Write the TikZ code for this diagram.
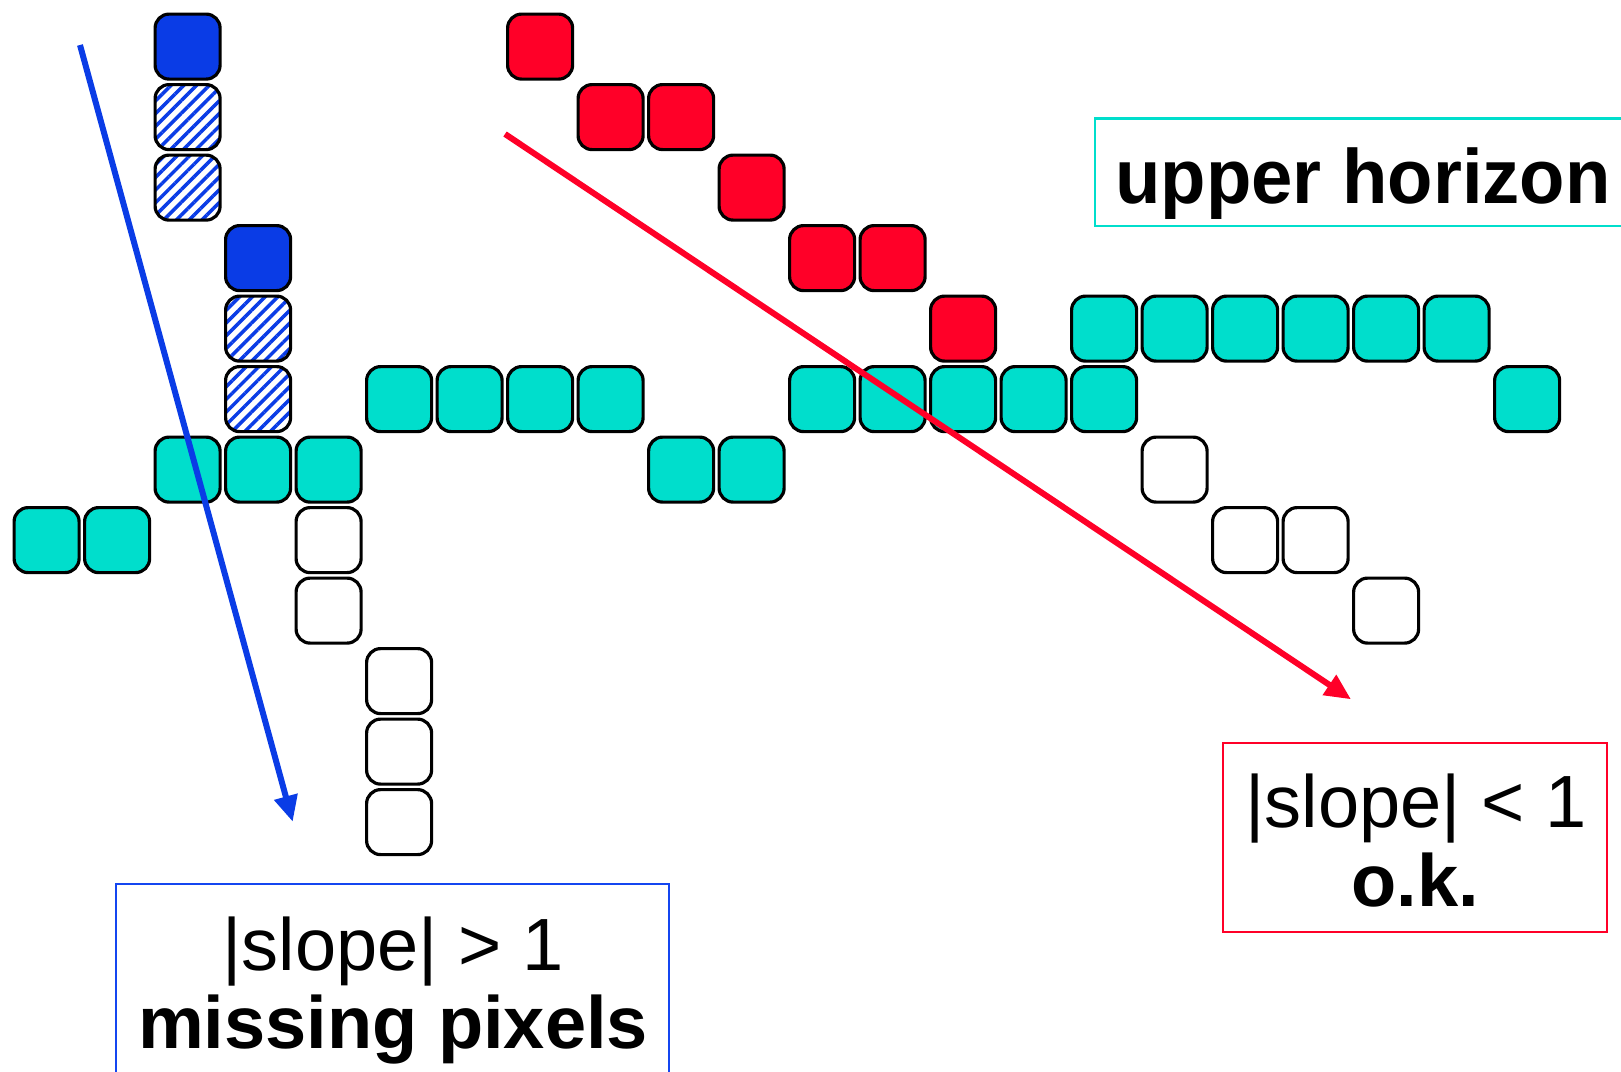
\documentclass[tikz,border=0pt]{standalone}
\usepackage{fontspec}
\setmainfont{Liberation Sans}
\newfontfamily\uhfont[FakeStretch=0.965]{Liberation Sans}
\usetikzlibrary{arrows.meta,patterns.meta}
\definecolor{cellblue}{RGB}{10,60,230}
\definecolor{cellred}{RGB}{255,0,40}
\definecolor{cellcyan}{RGB}{0,222,204}
\definecolor{boxblue}{RGB}{20,70,240}
\tikzset{
  cell/.style={draw=black,line width=3.2pt,rounded corners=14pt,minimum size=65pt,inner sep=0pt},
  bluecell/.style={cell,fill=cellblue},
  hatchcell/.style={cell,pattern={Lines[angle=45,distance=9pt,line width=3.5pt]},pattern color=cellblue},
  redcell/.style={cell,fill=cellred},
  cyancell/.style={cell,fill=cellcyan},
  whitecell/.style={cell,fill=white},
  labelbox/.style={line width=2.5pt,minimum width=#1,inner sep=0pt},
  bigtext/.style={anchor=base,inner sep=0pt,font=\fontsize{74}{80}\selectfont},
  slopearrow/.style={line width=6pt,-{Triangle[length=26pt,width=23pt]}}
}
\begin{document}
\begin{tikzpicture}[x=1pt,y=-1pt]
\useasboundingbox (0,0) rectangle (1621,1071);
\clip (0,0) rectangle (1621,1071);
% cells
\foreach \c/\r in {2/0,3/3}
  \node[bluecell] (b-\c-\r) at ({46.6+70.5*\c},{46.6+70.5*\r}) {};
\foreach \c/\r in {2/1,2/2,3/4,3/5}
  \node[hatchcell] (h-\c-\r) at ({46.6+70.5*\c},{46.6+70.5*\r}) {};
\foreach \c/\r in {7/0,8/1,9/1,10/2,11/3,12/3,13/4}
  \node[redcell] (r-\c-\r) at ({46.6+70.5*\c},{46.6+70.5*\r}) {};
\foreach \c/\r in {15/4,16/4,17/4,18/4,19/4,20/4,5/5,6/5,7/5,8/5,11/5,12/5,13/5,14/5,15/5,21/5,2/6,3/6,4/6,9/6,10/6,0/7,1/7}
  \node[cyancell] (c-\c-\r) at ({46.6+70.5*\c},{46.6+70.5*\r}) {};
\foreach \c/\r in {16/6,4/7,17/7,18/7,4/8,19/8,5/9,5/10,5/11}
  \node[whitecell] (w-\c-\r) at ({46.6+70.5*\c},{46.6+70.5*\r}) {};
% label boxes
\node[labelbox=545pt,draw=cellcyan,minimum height=107.7pt] (uhbox) at (1367.5,172.2) {};
\node[bigtext,font=\fontsize{77}{80}\uhfont\bfseries] (uhtext) at (1363,203) {upper horizon};
\node[labelbox=553pt,draw=boxblue,minimum height=216pt] (bbox) at (392.4,992) {};
\node[bigtext] (btext1) at (393,970) {|slope| > 1};
\node[bigtext,font=\fontsize{74}{80}\selectfont\bfseries] (btext2) at (393,1048) {missing pixels};
\node[labelbox=384pt,draw=cellred,minimum height=189pt] (rbox) at (1415,837.5) {};
\node[bigtext] (rtext1) at (1416,827) {|slope| < 1};
\node[bigtext,font=\fontsize{74}{80}\selectfont\bfseries] (rtext2) at (1415,906.7) {o.k.};
% arrows
\coordinate (bstart) at (80,45);
\coordinate (bend) at (292.7,821.7);
\coordinate (rstart) at (505,134);
\coordinate (rend) at (1351,699.3);
\draw[slopearrow,draw=cellblue,fill=cellblue] (bstart) -- (bend);
\draw[slopearrow,draw=cellred,fill=cellred] (rstart) -- (rend);
\end{tikzpicture}
\end{document}
